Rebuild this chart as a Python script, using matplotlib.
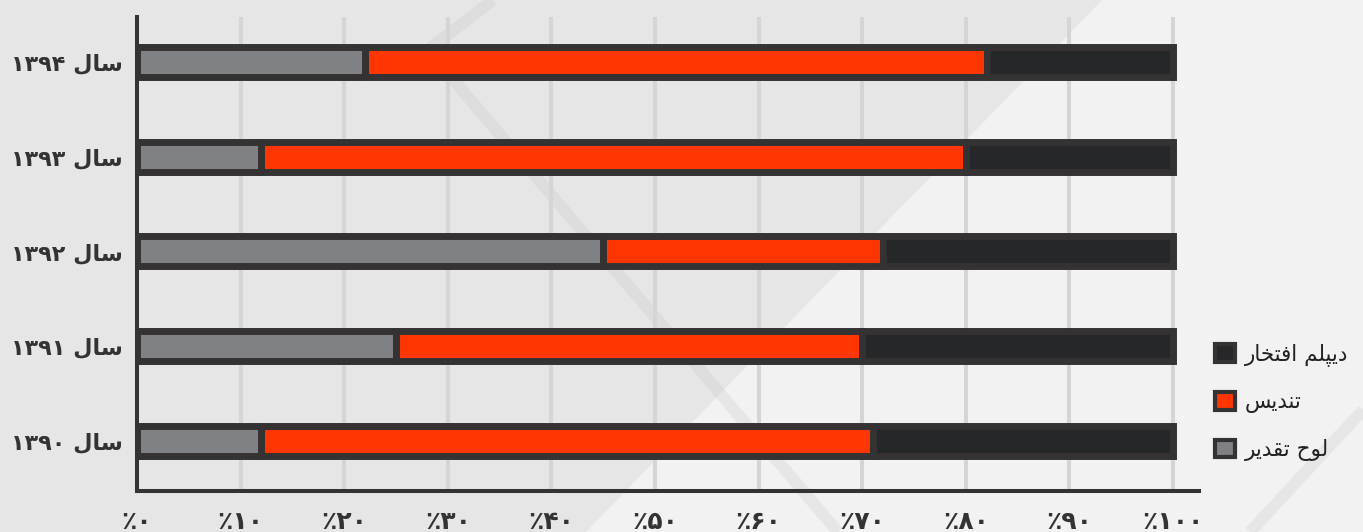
import matplotlib.pyplot as plt
from matplotlib.patches import Patch, Polygon
from matplotlib.lines import Line2D

# award shares per year (percent), bottom row first
years = ['۱۳۹۰', '۱۳۹۱', '۱۳۹۲', '۱۳۹۳', '۱۳۹۴']
lawh = [12, 25, 45, 12, 22]       # لوح تقدیر
tandis = [59, 45, 27, 68, 60]     # تندیس
diploma = [29, 30, 28, 20, 18]    # دیپلم افتخار
series_names = ['لوح تقدیر', 'تندیس', 'دیپلم افتخار']
x_ticks = list(range(0, 101, 10))

FA_DIGITS = '۰۱۲۳۴۵۶۷۸۹'

# isolated, final, initial, medial presentation forms
FORMS = {
    'ا': (0xFE8D, 0xFE8E, None, None),
    'د': (0xFEA9, 0xFEAA, None, None),
    'ر': (0xFEAD, 0xFEAE, None, None),
    'و': (0xFEED, 0xFEEE, None, None),
    'س': (0xFEB1, 0xFEB2, 0xFEB3, 0xFEB4),
    'ل': (0xFEDD, 0xFEDE, 0xFEDF, 0xFEE0),
    'م': (0xFEE1, 0xFEE2, 0xFEE3, 0xFEE4),
    'ف': (0xFED1, 0xFED2, 0xFED3, 0xFED4),
    'ت': (0xFE95, 0xFE96, 0xFE97, 0xFE98),
    'خ': (0xFEA5, 0xFEA6, 0xFEA7, 0xFEA8),
    'ن': (0xFEE5, 0xFEE6, 0xFEE7, 0xFEE8),
    'ح': (0xFEA1, 0xFEA2, 0xFEA3, 0xFEA4),
    'ق': (0xFED5, 0xFED6, 0xFED7, 0xFED8),
    'پ': (0xFB56, 0xFB57, 0xFB58, 0xFB59),
    'ی': (0xFBFC, 0xFBFD, 0xFBFE, 0xFBFF),
}


def shape_word(word):
    out = []
    for i, ch in enumerate(word):
        f = FORMS.get(ch)
        if f is None:
            out.append(ch)
            continue
        prev = FORMS.get(word[i - 1]) if i > 0 else None
        nxt = FORMS.get(word[i + 1]) if i + 1 < len(word) else None
        join_prev = prev is not None and prev[2] is not None
        join_next = nxt is not None and f[2] is not None
        if join_prev and join_next:
            cp = f[3]
        elif join_prev:
            cp = f[1]
        elif join_next:
            cp = f[2]
        else:
            cp = f[0]
        out.append(chr(cp))
    return ''.join(out)


def rtl(text):
    # matplotlib has no bidi/joining, so lay the words out right to left by hand
    vis = []
    for w in reversed(text.split(' ')):
        if w and w[0] in FORMS:
            vis.append(shape_word(w)[::-1])
        else:
            vis.append(w)
    return ' '.join(vis)


def fa_num(n):
    return ''.join(FA_DIGITS[int(d)] for d in str(n))


plt.rcParams['font.family'] = ['DejaVu Sans']

W, H = 1363, 532
fig = plt.figure(figsize=(W / 100, H / 100), dpi=100)
fig.patch.set_facecolor('#e6e6e6')


def px(x, y):
    return (x / W, 1 - y / H)


# background decoration: lighter wedge and faint diagonal strokes
fig.patches.append(Polygon([px(1102, 0), px(W, 0), px(W, H), px(586, H)],
                           closed=True, transform=fig.transFigure,
                           facecolor='#f2f2f2', edgecolor='none', zorder=-2))
for (x0, y0), (x1, y1) in [((428, 50), (493, 0)),
                           ((428, 50), (838, 532)),
                           ((1250, 532), (1363, 410))]:
    fig.lines.append(Line2D([x0 / W, x1 / W], [1 - y0 / H, 1 - y1 / H],
                            transform=fig.transFigure, color='#c8c8c8',
                            alpha=0.28, lw=8.5, solid_capstyle='butt', zorder=-1))

ax = fig.add_axes([137 / W, (H - 491) / H, (1199 - 137) / W, (491 - 17) / H])
ax.set_facecolor('none')
ax.set_zorder(1)

edge = '#343233'
colors = ['#808184', '#ff3600', '#262729']
y = list(range(len(years)))
left = [0] * len(years)
for vals, c in zip([lawh, tandis, diploma], colors):
    ax.barh(y, vals, left=left, height=0.317, color=c, edgecolor=edge,
            linewidth=5.0, zorder=3)
    left = [l + v for l, v in zip(left, vals)]

ax.set_xlim(0, 102.5)
ax.set_ylim(-0.53, 4.475)

for v in x_ticks[1:]:
    ax.axvline(v, color='#d5d5d7', lw=2.9, zorder=1)

for s in ['top', 'right']:
    ax.spines[s].set_visible(False)
for s in ['left', 'bottom']:
    ax.spines[s].set_color(edge)
    ax.spines[s].set_linewidth(2.9)
    ax.spines[s].set_zorder(4)

ax.set_xticks(x_ticks)
ax.set_xticklabels(['٪' + fa_num(v) for v in x_ticks], fontsize=18,
                   fontweight='bold', color='#333333')
ax.set_yticks(y)
ax.set_yticklabels([rtl('سال ' + yr) for yr in years], fontsize=16,
                   fontweight='bold', color='#333333')
ax.tick_params(axis='x', length=0, pad=14)
ax.tick_params(axis='y', length=0, pad=10)

handles = [Patch(facecolor=c, edgecolor=edge, linewidth=3.0) for c in colors[::-1]]
fig.legend(handles, [rtl(n) for n in series_names[::-1]],
           loc='center left', bbox_to_anchor=(1196 / W, 1 - 402 / H),
           frameon=False, fontsize=15.5, handlelength=0.9, handleheight=0.9,
           handletextpad=0.45, labelspacing=1.2, labelcolor='#222222')

fig.savefig('out.png', dpi=100, facecolor=fig.get_facecolor())
